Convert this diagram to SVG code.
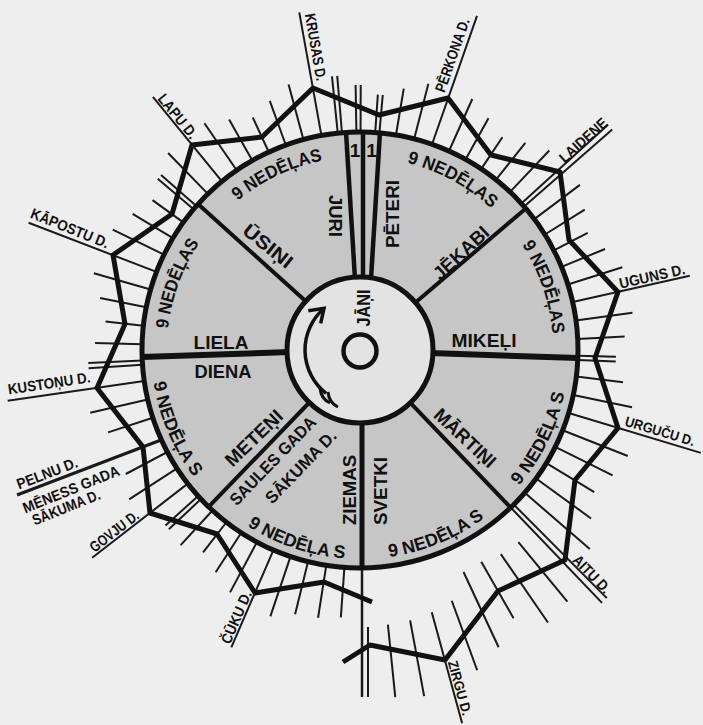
<svg xmlns="http://www.w3.org/2000/svg" width="703" height="725" viewBox="0 0 703 725">
<style>
.t{stroke:#1a1a1a;stroke-width:2;fill:none}
.ll{stroke:#1a1a1a;stroke-width:2;fill:none}
.sec{stroke:#111;stroke-width:4;fill:none}
text{font-family:"Liberation Sans",Arial,sans-serif;font-weight:bold;fill:#111}
.dl{font-size:15px}
.sl{font-size:19px}
.nd{font-size:18px}
</style>
<defs>
<path id="p1" d="M 222.8 214.2 A 193 193 0 0 1 342.2 157.8"/>
<path id="p2" d="M 388.5 159.1 A 193 193 0 0 1 504.6 222.1"/>
<path id="p3" d="M 510.2 228.8 A 193 193 0 0 1 553.0 353.7"/>
<path id="p4" d="M 167 350 A 193 193 0 0 1 212.2 225.9"/>
<path id="p5" d="M 151.3 361.7 A 209 209 0 0 0 207.6 493.1"/>
<path id="p6" d="M 230.2 513.8 A 209 209 0 0 0 365.8 558.9"/>
<path id="p7" d="M 368.4 558.8 A 209 209 0 0 0 500.7 504.6"/>
<path id="p8" d="M 504.6 500.9 A 209 209 0 0 0 567.8 372.6"/>
</defs>
<rect width="703" height="725" fill="#eeeeee"/>
<g id="connectors">
<g id="ticks" class="t">
<line x1="578" y1="350" x2="635" y2="350" transform="rotate(-154.05 360 350)"/>
<line x1="578" y1="350" x2="625" y2="350" transform="rotate(-149.1 360 350)"/>
<line x1="578" y1="350" x2="616" y2="350" transform="rotate(-144.15 360 350)"/>
<line x1="578" y1="350" x2="625" y2="350" transform="rotate(-139.75 360 350)"/>
<line x1="578" y1="350" x2="625" y2="350" transform="rotate(-138.65 360 350)"/>
<line x1="578" y1="350" x2="635" y2="350" transform="rotate(-134.25 360 350)"/>
<line x1="578" y1="350" x2="635" y2="350" transform="rotate(-124.45 360 350)"/>
<line x1="578" y1="350" x2="625" y2="350" transform="rotate(-119.6 360 350)"/>
<line x1="578" y1="350" x2="616" y2="350" transform="rotate(-114.75 360 350)"/>
<line x1="578" y1="350" x2="625" y2="350" transform="rotate(-109.9 360 350)"/>
<line x1="578" y1="350" x2="635" y2="350" transform="rotate(-105.05 360 350)"/>
<line x1="578" y1="350" x2="635" y2="350" transform="rotate(-95.85 360 350)"/>
<line x1="578" y1="350" x2="635" y2="350" transform="rotate(-94.75 360 350)"/>
<line x1="578" y1="350" x2="625" y2="350" transform="rotate(-90.95 360 350)"/>
<line x1="578" y1="350" x2="625" y2="350" transform="rotate(-89.85 360 350)"/>
<line x1="578" y1="350" x2="616" y2="350" transform="rotate(-86 360 350)"/>
<line x1="578" y1="350" x2="616" y2="350" transform="rotate(-84.9 360 350)"/>
<line x1="578" y1="350" x2="625" y2="350" transform="rotate(-80.5 360 350)"/>
<line x1="578" y1="350" x2="635" y2="350" transform="rotate(-75.6 360 350)"/>
<line x1="578" y1="350" x2="635" y2="350" transform="rotate(-65.9 360 350)"/>
<line x1="578" y1="350" x2="625" y2="350" transform="rotate(-61 360 350)"/>
<line x1="578" y1="350" x2="616" y2="350" transform="rotate(-56.2 360 350)"/>
<line x1="578" y1="350" x2="625" y2="350" transform="rotate(-51.4 360 350)"/>
<line x1="578" y1="350" x2="635" y2="350" transform="rotate(-46.5 360 350)"/>
<line x1="578" y1="350" x2="635" y2="350" transform="rotate(-36.9 360 350)"/>
<line x1="578" y1="350" x2="625" y2="350" transform="rotate(-32 360 350)"/>
<line x1="578" y1="350" x2="616" y2="350" transform="rotate(-27.2 360 350)"/>
<line x1="578" y1="350" x2="625" y2="350" transform="rotate(-22.4 360 350)"/>
<line x1="578" y1="350" x2="635" y2="350" transform="rotate(-17.5 360 350)"/>
<line x1="578" y1="350" x2="635" y2="350" transform="rotate(-7.8 360 350)"/>
<line x1="578" y1="350" x2="625" y2="350" transform="rotate(-2.9 360 350)"/>
<line x1="578" y1="350" x2="616" y2="350" transform="rotate(1.5 360 350)"/>
<line x1="578" y1="350" x2="616" y2="350" transform="rotate(2.6 360 350)"/>
<line x1="578" y1="350" x2="625" y2="350" transform="rotate(7 360 350)"/>
<line x1="578" y1="350" x2="638" y2="350" transform="rotate(11.9 360 350)"/>
<line x1="578" y1="350" x2="648" y2="350" transform="rotate(21.6 360 350)"/>
<line x1="578" y1="350" x2="642" y2="350" transform="rotate(26.4 360 350)"/>
<line x1="578" y1="350" x2="634" y2="350" transform="rotate(31.25 360 350)"/>
<line x1="578" y1="350" x2="646" y2="350" transform="rotate(36.1 360 350)"/>
<line x1="578" y1="350" x2="664" y2="350" transform="rotate(40.9 360 350)"/>
<line x1="609" y1="350" x2="686" y2="350" transform="rotate(50.5 360 350)"/>
<line x1="608" y1="350" x2="691" y2="350" transform="rotate(55.4 360 350)"/>
<line x1="604" y1="350" x2="669" y2="350" transform="rotate(60.2 360 350)"/>
<line x1="605" y1="350" x2="688" y2="350" transform="rotate(65 360 350)"/>
<line x1="627" y1="350" x2="701" y2="350" transform="rotate(69.9 360 350)"/>
<line x1="635" y1="350" x2="712" y2="350" transform="rotate(79.5 360 350)"/>
<line x1="636" y1="350" x2="709" y2="350" transform="rotate(84.2 360 350)"/>
<line x1="578" y1="350" x2="628" y2="350" transform="rotate(94.1 360 350)"/>
<line x1="578" y1="350" x2="631" y2="350" transform="rotate(98.9 360 350)"/>
<line x1="578" y1="350" x2="632" y2="350" transform="rotate(103.8 360 350)"/>
<line x1="578" y1="350" x2="641" y2="350" transform="rotate(108.6 360 350)"/>
<line x1="578" y1="350" x2="635" y2="350" transform="rotate(118.2 360 350)"/>
<line x1="578" y1="350" x2="625" y2="350" transform="rotate(123 360 350)"/>
<line x1="578" y1="350" x2="616" y2="350" transform="rotate(127.8 360 350)"/>
<line x1="578" y1="350" x2="625" y2="350" transform="rotate(132.6 360 350)"/>
<line x1="578" y1="350" x2="622" y2="350" transform="rotate(136.85 360 350)"/>
<line x1="578" y1="350" x2="622" y2="350" transform="rotate(137.95 360 350)"/>
<line x1="578" y1="350" x2="635" y2="350" transform="rotate(147.1 360 350)"/>
<line x1="578" y1="350" x2="625" y2="350" transform="rotate(152.1 360 350)"/>
<line x1="578" y1="350" x2="625" y2="350" transform="rotate(161.9 360 350)"/>
<line x1="578" y1="350" x2="637" y2="350" transform="rotate(166.9 360 350)"/>
<line x1="578" y1="350" x2="632" y2="350" transform="rotate(176.15 360 350)"/>
<line x1="578" y1="350" x2="632" y2="350" transform="rotate(177.25 360 350)"/>
<line x1="578" y1="350" x2="625" y2="350" transform="rotate(181.5 360 350)"/>
<line x1="578" y1="350" x2="616" y2="350" transform="rotate(186.4 360 350)"/>
<line x1="578" y1="350" x2="625" y2="350" transform="rotate(191.3 360 350)"/>
<line x1="578" y1="350" x2="637" y2="350" transform="rotate(196.1 360 350)"/>
</g>
<g id="day-lines" class="ll">
<line x1="578" y1="350" x2="687" y2="350" transform="rotate(-129.3 360 350)"/>
<line x1="578" y1="350" x2="703" y2="350" transform="rotate(-100.2 360 350)"/>
<line x1="578" y1="350" x2="714" y2="350" transform="rotate(-70.7 360 350)"/>
<line x1="578" y1="350" x2="695" y2="350" transform="rotate(-42.25 360 350)"/>
<line x1="578" y1="350" x2="695" y2="350" transform="rotate(-41.15 360 350)"/>
<line x1="578" y1="350" x2="698" y2="350" transform="rotate(-12.7 360 350)"/>
<line x1="578" y1="350" x2="716" y2="350" transform="rotate(16.8 360 350)"/>
<line x1="578" y1="350" x2="710" y2="350" transform="rotate(45.15 360 350)"/>
<line x1="578" y1="350" x2="710" y2="350" transform="rotate(46.25 360 350)"/>
<line x1="632" y1="350" x2="747" y2="350" transform="rotate(74.7 360 350)"/>
<line x1="578" y1="350" x2="684" y2="350" transform="rotate(113.4 360 350)"/>
<line x1="578" y1="350" x2="699" y2="350" transform="rotate(142.2 360 350)"/>
<line x1="578" y1="350" x2="716" y2="350" transform="rotate(171.8 360 350)"/>
<line x1="578" y1="350" x2="715" y2="350" transform="rotate(-159 360 350)"/>
<line x1="161" y1="440" x2="17" y2="495" stroke-width="3"/>
<line x1="362" y1="566" x2="362" y2="697" stroke-width="2.5"/>
<line x1="368" y1="627" x2="368" y2="697"/>
</g>
</g>
<g id="ring">
<circle cx="360" cy="350" r="218" fill="#c6c6c6" stroke="#111" stroke-width="5"/>
</g>
<g id="sector-lines" class="sec">
<line x1="142" y1="357" x2="290" y2="352" stroke-width="6"/>
<line x1="430" y1="353" x2="578" y2="358" stroke-width="6"/>
<line x1="362" y1="420" x2="362" y2="568" stroke-width="5"/>
<line x1="305.8" y1="301.2" x2="198" y2="204.1"/>
<line x1="415.5" y1="302.6" x2="525.8" y2="208.4"/>
<line x1="309.3" y1="402.5" x2="208.6" y2="506.8"/>
<line x1="410.4" y1="402.8" x2="510.6" y2="507.6"/>
<line x1="346" y1="132" x2="355" y2="279" stroke-width="4.5"/>
<line x1="363" y1="132" x2="363" y2="279" stroke-width="4.5"/>
<line x1="380" y1="132" x2="371" y2="279" stroke-width="4.5"/>
</g>
<g id="hub">
<circle cx="360" cy="350" r="73" fill="#e3e3e3" stroke="#111" stroke-width="5"/>
<circle cx="360" cy="351" r="16.5" fill="none" stroke="#111" stroke-width="4.5"/>
<path d="M 326.1 393.3 A 55 55 0 0 1 323.9 308.5" fill="none" stroke="#111" stroke-width="3.5"/>
<polyline points="308.3,310.7 324,308.3 320.7,323.3" fill="none" stroke="#111" stroke-width="3.5" stroke-linejoin="miter"/>
<path d="M 320 388 Q 321 399 330 403" fill="none" stroke="#111" stroke-width="3"/>
<path d="M 328 392 Q 329 403 338 407" fill="none" stroke="#111" stroke-width="3"/>
<text class="sl" x="364" y="308" transform="rotate(-90 364 308)" text-anchor="middle" dominant-baseline="central" textLength="37" lengthAdjust="spacingAndGlyphs" style="font-size:18px">JĀŅI</text>
</g>
<g id="zigzag">
<polyline points="372,602 324,582 255,593 217,534 150,513 143,447 97,388 125,324 113,255 172,214 192,145 262,137 313,88 379,115 448,98 491,155 560,172 569,240 618,292 595,358 618,428 575,480 565,560 498,591 445,660 370,645 343,662" fill="none" stroke="#111" stroke-width="5" stroke-linejoin="round"/>
</g>
<g id="week-labels" class="nd">
<text><textPath href="#p1" startOffset="50%" text-anchor="middle" textLength="95" lengthAdjust="spacingAndGlyphs">9 NEDĒĻAS</textPath></text>
<text><textPath href="#p2" startOffset="50%" text-anchor="middle" textLength="97" lengthAdjust="spacingAndGlyphs">9 NEDĒĻAS</textPath></text>
<text><textPath href="#p3" startOffset="50%" text-anchor="middle" textLength="95" lengthAdjust="spacingAndGlyphs">9 NEDĒĻAS</textPath></text>
<text><textPath href="#p4" startOffset="50%" text-anchor="middle" textLength="92" lengthAdjust="spacingAndGlyphs">9 NEDĒĻAS</textPath></text>
<text><textPath href="#p5" startOffset="50%" text-anchor="middle" textLength="104" lengthAdjust="spacingAndGlyphs">9 NEDĒĻA S</textPath></text>
<text><textPath href="#p6" startOffset="50%" text-anchor="middle" textLength="104" lengthAdjust="spacingAndGlyphs">9 NEDĒĻA S</textPath></text>
<text><textPath href="#p7" startOffset="50%" text-anchor="middle" textLength="104" lengthAdjust="spacingAndGlyphs">9 NEDĒĻA S</textPath></text>
<text><textPath href="#p8" startOffset="50%" text-anchor="middle" textLength="104" lengthAdjust="spacingAndGlyphs">9 NEDĒĻA S</textPath></text>
<text x="355" y="157" text-anchor="middle" style="font-size:19px">1</text>
<text x="371.5" y="157" text-anchor="middle" style="font-size:19px">1</text>
</g>
<g id="sector-labels" class="sl" text-anchor="middle" dominant-baseline="central">
<text x="268" y="246" transform="rotate(39 268 246)" textLength="58" lengthAdjust="spacingAndGlyphs">ŪSIŅI</text>
<text x="335" y="216" transform="rotate(90 335 216)" textLength="42" lengthAdjust="spacingAndGlyphs">JURI</text>
<text x="392" y="214" transform="rotate(-90 392 214)" textLength="68" lengthAdjust="spacingAndGlyphs">PĒTERI</text>
<text x="461" y="253" transform="rotate(-43 461 253)" textLength="69" lengthAdjust="spacingAndGlyphs">JĒKABI</text>
<text x="484" y="340" textLength="65" lengthAdjust="spacingAndGlyphs">MIKEĻI</text>
<text x="221" y="342" textLength="55" lengthAdjust="spacingAndGlyphs">LIELA</text>
<text x="223" y="371" textLength="57" lengthAdjust="spacingAndGlyphs">DIENA</text>
<text x="254" y="438" transform="rotate(-44 254 438)" textLength="72" lengthAdjust="spacingAndGlyphs">METEŅI</text>
<text x="273" y="461" transform="rotate(-46 273 461)" textLength="116" lengthAdjust="spacingAndGlyphs" style="font-size:17px">SAULES GADA</text>
<text x="301" y="467" transform="rotate(-46 301 467)" textLength="94" lengthAdjust="spacingAndGlyphs" style="font-size:17px">SĀKUMA D.</text>
<text x="349" y="490" transform="rotate(-90 349 490)" textLength="70" lengthAdjust="spacingAndGlyphs">ZIEMAS</text>
<text x="380" y="491" transform="rotate(-90 380 491)" textLength="68" lengthAdjust="spacingAndGlyphs">SVETKI</text>
<text x="465" y="438" transform="rotate(43 465 438)" textLength="77" lengthAdjust="spacingAndGlyphs">MĀRTIŅI</text>
</g>
<g id="day-labels" class="dl" text-anchor="middle" dominant-baseline="central">
<text x="316" y="47" transform="rotate(80 316 47)" textLength="68" lengthAdjust="spacingAndGlyphs">KRUSAS D.</text>
<text x="178" y="116" transform="rotate(50.7 178 116)" textLength="53" lengthAdjust="spacingAndGlyphs">LAPU D.</text>
<text x="452" y="55" transform="rotate(-70.7 452 55)" textLength="77" lengthAdjust="spacingAndGlyphs">PĒRKONA D.</text>
<text x="583" y="140" transform="rotate(-41.7 583 140)" textLength="59" lengthAdjust="spacingAndGlyphs">LAIDENE</text>
<text x="652" y="276" transform="rotate(-12.7 652 276)" textLength="67" lengthAdjust="spacingAndGlyphs">UGUNS D.</text>
<text x="660" y="431" transform="rotate(16.8 660 431)" textLength="72" lengthAdjust="spacingAndGlyphs" style="font-size:14px">URGUČU D.</text>
<text x="592" y="574" transform="rotate(45.7 592 574)" textLength="47" lengthAdjust="spacingAndGlyphs">AITU D.</text>
<text x="460" y="688" transform="rotate(74.7 460 688)" textLength="56" lengthAdjust="spacingAndGlyphs" style="font-size:14px">ZIRGU D.</text>
<text x="236" y="617" transform="rotate(-66.6 236 617)" textLength="56" lengthAdjust="spacingAndGlyphs">ČŪKU D.</text>
<text x="114" y="531" transform="rotate(-37.8 114 531)" textLength="58" lengthAdjust="spacingAndGlyphs">GOVJU D.</text>
<text x="47" y="473" transform="rotate(-21 47 473)" textLength="64" lengthAdjust="spacingAndGlyphs">PELNU D.</text>
<text x="71" y="489" transform="rotate(-22 71 489)" textLength="103" lengthAdjust="spacingAndGlyphs">MĒNESS GADA</text>
<text x="66" y="507" transform="rotate(-22 66 507)" textLength="72" lengthAdjust="spacingAndGlyphs">SĀKUMA D.</text>
<text x="49" y="383" transform="rotate(-8.5 49 383)" textLength="83" lengthAdjust="spacingAndGlyphs">KUSTOŅU D.</text>
<text x="70" y="228" transform="rotate(22 70 228)" textLength="83" lengthAdjust="spacingAndGlyphs">KĀPOSTU D.</text>
</g>
</svg>
